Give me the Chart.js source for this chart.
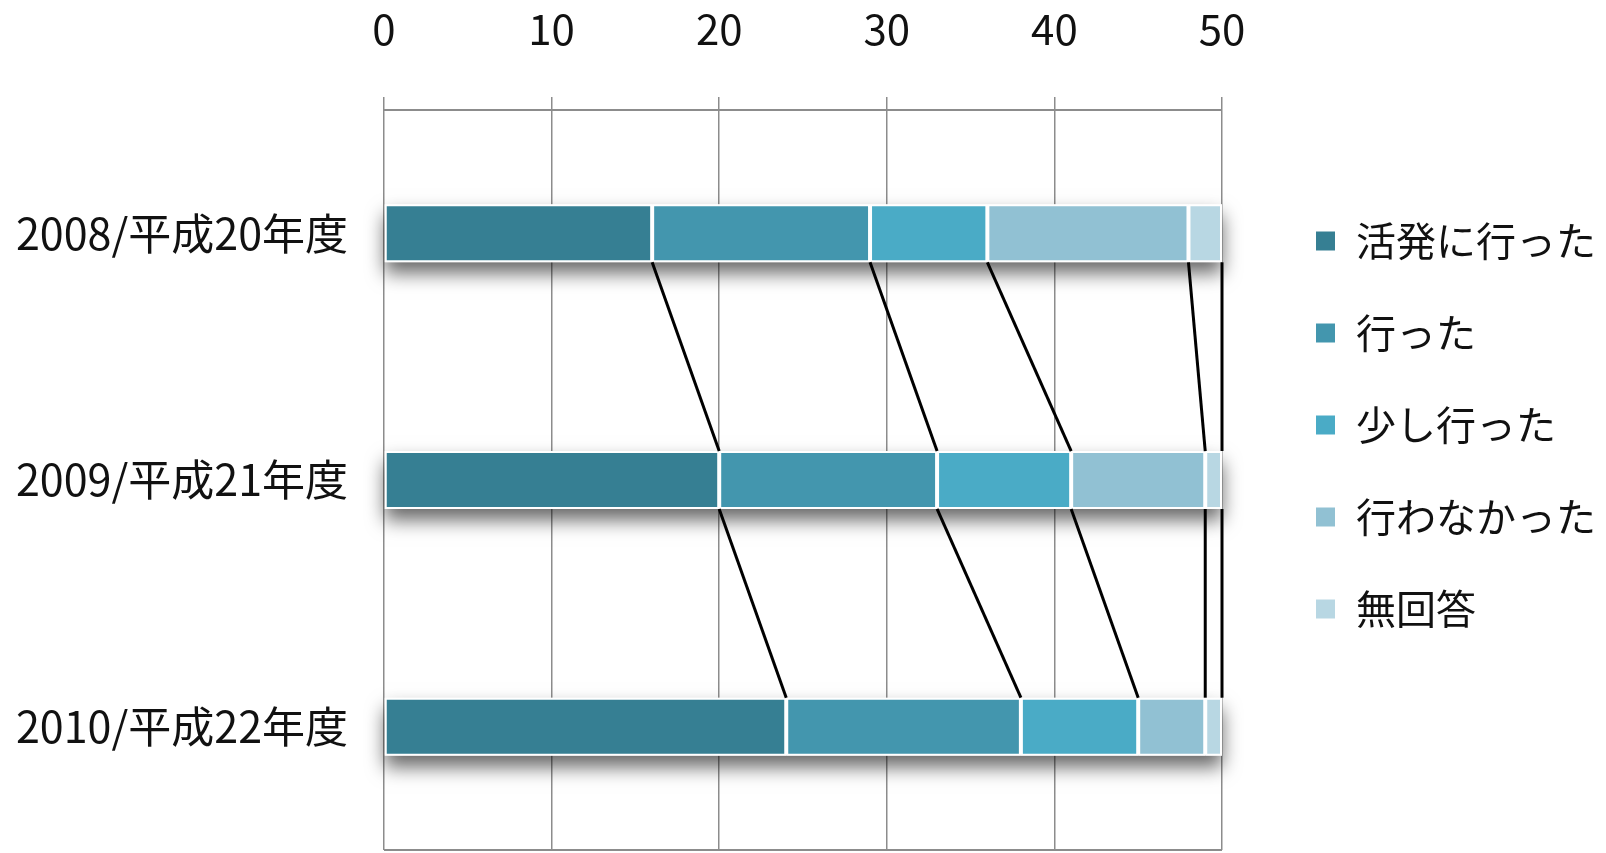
<!DOCTYPE html>
<html>
<head>
<meta charset="utf-8">
<script src="https://cdn.jsdelivr.net/npm/chart.js@4"></script>
<style>
  body { margin: 0; background: #fff; }
</style>
</head>
<body>
<canvas id="chart" width="1606" height="853"></canvas>
<script>
const years = ['2008/平成20年度', '2009/平成21年度', '2010/平成22年度'];
const xTicks = [0, 10, 20, 30, 40, 50];

const seriesNames = ['活発に行った', '行った', '少し行った', '行わなかった', '無回答'];
const veryActive = [16, 20, 24];
const did = [13, 13, 14];
const aLittle = [7, 8, 7];
const didNot = [12, 8, 4];
const noAnswer = [2, 1, 1];
const seriesColors = ['#367f93', '#4396ae', '#4aabc6', '#91c1d3', '#b8d7e3'];

const FONT = "'Noto Sans CJK JP', 'Noto Sans', sans-serif";

// soft shadow under each whole bar, then series lines between the stacks
const barDecor = {
  id: 'barDecor',
  beforeDatasetsDraw(chart) {
    const ctx = chart.ctx;
    const first = chart.getDatasetMeta(0).data;
    const last = chart.getDatasetMeta(chart.data.datasets.length - 1).data;
    ctx.save();
    ctx.shadowColor = 'rgba(0,0,0,0.6)';
    ctx.shadowBlur = 18;
    ctx.shadowOffsetY = 11;
    ctx.fillStyle = '#fff';
    first.forEach((el, j) => {
      const top = el.y - el.height / 2;
      ctx.fillRect(el.base, top, last[j].x - el.base, el.height);
    });
    ctx.restore();
  },
  afterDatasetsDraw(chart) {
    const ctx = chart.ctx;
    ctx.save();
    ctx.strokeStyle = '#000';
    ctx.lineWidth = 3;
    chart.data.datasets.forEach((ds, i) => {
      const bars = chart.getDatasetMeta(i).data;
      for (let j = 0; j < bars.length - 1; j++) {
        const a = bars[j], b = bars[j + 1];
        ctx.beginPath();
        ctx.moveTo(a.x, a.y + a.height / 2);
        ctx.lineTo(b.x, b.y - b.height / 2);
        ctx.stroke();
      }
    });
    ctx.restore();
  }
};

const values = [veryActive, did, aLittle, didNot, noAnswer];

function draw() {
  new Chart(document.getElementById('chart'), {
    type: 'bar',
    data: {
      labels: years,
      datasets: seriesNames.map((name, i) => ({
        label: name,
        data: values[i],
        backgroundColor: seriesColors[i],
        borderColor: '#ffffff',
        borderWidth: 2,
        borderSkipped: false,
        categoryPercentage: 1,
        barPercentage: 0.235
      }))
    },
    options: {
      indexAxis: 'y',
      responsive: false,
      animation: false,
      layout: { padding: { top: 0, bottom: 3, left: 0, right: 0 } },
      plugins: {
        tooltip: { enabled: false },
        legend: {
          position: 'right',
          align: 'center',
          maxWidth: 420,
          labels: {
            boxWidth: 21,
            boxHeight: 21,
            padding: 52,
            color: '#111',
            font: { family: FONT, size: 40 }
          }
        }
      },
      scales: {
        x: {
          position: 'top',
          stacked: true,
          min: 0,
          max: 50,
          afterFit: s => { s.height = 110; },
          afterBuildTicks: s => { s.ticks = xTicks.map(v => ({ value: v })); },
          grid: { color: '#8c8c8c', lineWidth: 1.5, tickLength: 13, tickColor: '#8c8c8c' },
          border: { display: true, color: '#8c8c8c', width: 2 },
          ticks: { color: '#111', padding: 43, maxRotation: 0, font: { family: FONT, size: 42 } }
        },
        y: {
          stacked: true,
          afterFit: s => { s.width = 384; s.paddingTop = 0; s.paddingBottom = 0; },
          grid: {
            offset: true,
            drawTicks: false,
            lineWidth: 2,
            color: c => c.type === 'scale' ? '#8c8c8c' : 'rgba(0,0,0,0)'
          },
          border: { display: false },
          ticks: { color: '#111', padding: 36, font: { family: FONT, size: 43 } }
        },
        gap: {
          type: 'linear',
          position: 'right',
          display: true,
          afterFit: s => { s.width = 41; },
          grid: { display: false, drawTicks: false },
          border: { display: false },
          ticks: { display: false }
        }
      }
    },
    plugins: [barDecor]
  });
}

document.fonts.load("42px 'Noto Sans CJK JP'", '活発に行った').then(draw, draw);
</script>
</body>
</html>
